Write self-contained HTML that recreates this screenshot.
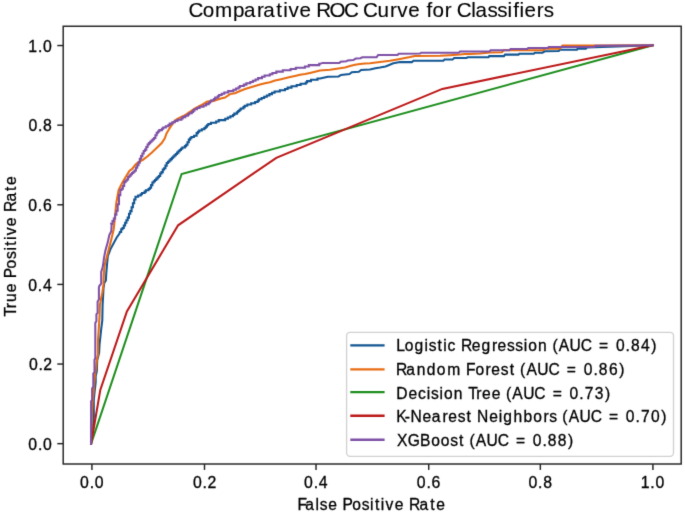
<!DOCTYPE html>
<html><head><meta charset="utf-8"><title>Comparative ROC Curve for Classifiers</title><style>
html,body{margin:0;padding:0;background:#fff;overflow:hidden;}
svg{display:block;}
text{font-family:"Liberation Sans", sans-serif;fill:#000;stroke:#000;stroke-width:0.3px;}
</style></head><body>
<svg width="685" height="515" viewBox="0 0 685 515">
<defs><filter id="bl" color-interpolation-filters="sRGB" x="0" y="0" width="685" height="515" filterUnits="userSpaceOnUse"><feConvolveMatrix order="3" kernelMatrix="0.01134 0.08382 0.01134 0.08382 0.61935 0.08382 0.01134 0.08382 0.01134" edgeMode="duplicate" preserveAlpha="true"/></filter></defs>
<g filter="url(#bl)">
<rect x="0" y="0" width="685" height="515" fill="#fff"/>
<polyline points="91.1,443.8 92.0,435.0 93.0,425.0 93.8,417.0 93.8,400.0 94.6,392.0 95.7,382.3 95.7,376.1 96.8,371.4 97.2,360.5 99.1,352.8 99.5,345.0 100.3,337.6 101.1,329.9 102.3,320.5 102.6,305.0 103.1,296.1 103.5,288.3 104.3,282.9 105.9,280.5 106.3,272.8 107.0,265.0 107.8,256.1 110.5,249.1 112.7,245.0 116.7,237.5 119.5,233.5 119.9,231.9 121.2,231.9 121.2,229.3 122.5,229.3 122.5,228.0 123.8,228.0 123.8,225.4 125.1,225.4 125.1,222.8 126.4,222.8 126.4,220.2 127.7,220.2 127.7,217.6 129.0,217.6 129.0,213.7 130.3,213.7 130.3,211.1 131.6,211.1 131.6,207.2 132.9,207.2 132.9,203.3 134.2,203.3 134.2,199.4 135.5,199.4 135.5,196.8 138.1,196.8 138.1,195.5 140.7,195.5 140.7,194.2 142.0,194.2 142.0,192.9 144.6,192.9 144.6,191.6 145.9,191.6 145.9,190.3 148.5,190.3 148.5,189.0 149.8,189.0 149.8,187.7 151.1,187.7 151.1,185.1 152.4,185.1 152.4,182.5 153.7,182.5 153.7,181.2 155.0,181.2 155.0,179.9 156.3,179.9 156.3,178.6 157.6,178.6 157.6,177.3 158.9,177.3 158.9,176.0 160.2,176.0 160.2,173.4 161.5,173.4 161.5,172.1 162.8,172.1 162.8,169.5 164.1,169.5 164.1,168.2 165.4,168.2 165.4,165.6 166.7,165.6 166.7,163.0 168.0,163.0 168.0,161.7 169.3,161.7 169.3,160.4 170.6,160.4 170.6,159.1 171.9,159.1 171.9,157.8 173.2,157.8 173.2,156.5 174.5,156.5 174.5,155.2 175.8,155.2 175.8,153.9 177.1,153.9 177.1,152.6 178.4,152.6 178.4,151.3 179.7,151.3 179.7,150.0 181.0,150.0 181.0,148.7 182.3,148.7 182.3,147.4 184.9,147.4 184.9,146.1 186.2,146.1 186.2,144.8 187.5,144.8 187.5,142.2 188.8,142.2 188.8,139.6 190.1,139.6 190.1,138.3 191.4,138.3 191.4,137.0 194.0,137.0 194.0,135.7 196.6,135.7 196.6,133.1 197.9,133.1 197.9,131.8 199.2,131.8 199.2,130.5 201.8,130.5 201.8,129.2 204.4,129.2 204.4,127.9 205.7,127.9 205.7,126.6 207.0,126.6 207.0,125.3 208.3,125.3 208.3,124.0 210.9,124.0 210.9,122.7 216.1,122.7 216.1,121.4 218.7,121.4 218.7,120.1 225.2,120.1 225.2,118.8 227.8,118.8 227.8,117.5 230.4,117.5 230.4,116.2 233.0,116.2 233.0,114.9 234.3,114.9 234.3,113.6 236.9,113.6 236.9,112.3 238.2,112.3 238.2,111.0 239.5,111.0 239.5,109.7 240.8,109.7 240.8,108.4 243.4,108.4 243.4,107.1 244.7,107.1 244.7,105.8 247.3,105.8 247.3,104.5 251.2,104.5 251.2,103.2 255.1,103.2 255.1,101.9 257.7,101.9 257.7,100.6 259.0,100.6 259.0,99.3 261.6,99.3 261.6,98.0 264.2,98.0 264.2,96.7 266.8,96.7 266.8,95.4 269.4,95.4 269.4,94.1 272.0,94.1 272.0,92.8 274.6,92.8 274.6,91.5 279.8,91.5 279.8,90.2 285.0,90.2 285.0,88.9 287.6,88.9 287.6,87.6 291.5,87.6 291.5,86.3 296.7,86.3 296.7,85.0 300.6,85.0 300.6,83.7 305.8,83.7 305.8,82.4 307.1,82.4 307.1,81.1 311.0,81.1 311.0,79.8 317.5,79.8 317.5,78.5 320.1,78.5 327.8,76.8 338.6,76.4 341.0,74.9 349.5,74.1 351.8,72.3 358.8,71.8 361.1,70.0 370.0,69.6 375.4,68.3 380.0,67.6 385.5,66.4 388.6,65.2 393.3,63.3 400.0,62.1 411.9,62.1 413.5,60.8 443.3,60.7 444.5,59.5 452.6,59.5 454.2,58.1 466.6,57.9 467.7,57.2 488.5,57.2 489.2,56.1 504.0,56.1 505.0,54.6 518.5,54.6 519.3,53.7 533.8,53.7 534.8,52.7 542.5,52.7 544.8,51.3 558.8,51.0 559.6,49.7 577.0,49.7 577.5,48.8 585.8,48.8 587.0,47.6 610.0,46.8 652.8,45.2" fill="none" stroke="#115592" stroke-width="2.05" stroke-linejoin="miter" stroke-linecap="square"/>
<polyline points="91.1,443.8 91.8,420.0 92.5,403.0 93.8,390.0 94.9,376.1 96.0,368.3 96.8,360.5 98.0,354.3 98.0,340.0 98.8,328.3 99.5,316.7 99.9,305.0 100.8,300.0 102.4,292.2 103.5,284.4 103.9,272.8 104.7,265.0 105.4,262.3 108.5,250.6 111.6,238.2 113.6,229.7 114.2,225.0 115.0,216.0 116.3,203.0 118.6,190.0 122.4,182.6 125.5,177.2 129.4,171.0 132.5,168.5 135.6,164.5 138.7,161.8 142.6,160.1 147.3,156.5 151.9,152.5 155.8,148.8 161.7,143.0 164.8,138.3 166.4,133.6 168.7,129.8 171.1,125.9 174.9,120.6 178.8,118.1 185.5,114.8 195.0,108.5 202.6,104.4 207.3,101.6 213.5,100.9 220.0,98.7 225.0,97.6 230.0,94.1 235.0,93.3 240.0,91.0 245.0,89.0 250.0,87.5 255.0,85.9 260.0,84.4 265.0,83.2 270.0,82.2 275.0,80.6 280.0,79.5 285.0,78.3 290.0,77.1 295.0,76.0 300.0,74.8 305.0,74.0 310.0,72.9 315.0,71.7 320.0,70.6 330.0,69.7 340.0,68.3 345.0,67.5 350.0,66.0 355.0,64.8 360.0,64.0 365.0,63.5 370.0,63.3 380.0,62.1 390.0,60.8 400.0,59.0 405.0,58.0 410.0,57.1 415.0,56.0 440.0,55.8 450.0,55.3 460.0,54.6 465.0,54.0 470.0,53.9 480.0,53.5 490.0,52.6 502.0,52.3 503.5,50.3 543.0,50.3 545.0,48.8 560.0,48.8 562.5,45.4 594.0,45.4 652.8,45.2" fill="none" stroke="#e86b10" stroke-width="2.05" stroke-linejoin="miter" stroke-linecap="square"/>
<polyline points="91.1,443.8 181.6,174.0 652.8,45.2" fill="none" stroke="#1d8e1d" stroke-width="2.05" stroke-linejoin="miter" stroke-linecap="square"/>
<polyline points="91.1,443.8 100.3,389.9 126.9,311.4 178.1,225.3 276.3,157.8 442.3,88.9 652.8,45.2" fill="none" stroke="#bc1818" stroke-width="2.05" stroke-linejoin="miter" stroke-linecap="square"/>
<polyline points="91.1,443.8 91.1,401.3 92.1,399.8 92.1,388.6 93.3,386.5 93.3,373.7 94.5,372.2 94.5,359.8 95.3,358.2 95.3,322.9 96.4,321.3 96.4,314.3 97.6,312.8 97.6,301.5 98.9,299.5 98.9,287.5 99.3,286.0 101.2,283.6 101.2,272.0 102.4,268.1 103.1,265.0 103.9,258.4 105.4,250.6 107.8,242.1 109.3,235.1 111.3,231.2 111.6,225.0 111.2,223.7 112.5,223.7 112.5,221.1 113.8,221.1 113.8,218.5 115.1,218.5 115.1,214.6 116.4,214.6 116.4,210.7 117.7,210.7 117.7,204.2 119.0,204.2 119.0,195.1 120.3,195.1 120.3,189.9 121.6,189.9 121.6,188.6 122.9,188.6 122.9,186.0 124.2,186.0 124.2,182.1 125.5,182.1 125.5,180.8 126.8,180.8 126.8,179.5 128.1,179.5 128.1,176.9 129.4,176.9 129.4,175.6 130.7,175.6 130.7,174.3 132.0,174.3 132.0,173.0 133.3,173.0 133.3,171.7 134.6,171.7 134.6,170.4 135.9,170.4 135.9,167.8 137.2,167.8 137.2,165.2 138.5,165.2 138.5,162.6 139.8,162.6 139.8,158.7 141.1,158.7 141.1,156.1 142.4,156.1 142.4,153.5 143.7,153.5 143.7,150.9 145.0,150.9 145.0,149.6 146.3,149.6 146.3,147.0 147.6,147.0 147.6,144.4 148.9,144.4 148.9,143.1 150.2,143.1 150.2,141.8 151.5,141.8 151.5,140.5 152.8,140.5 152.8,139.2 154.1,139.2 154.1,137.9 155.4,137.9 155.4,135.3 156.7,135.3 156.7,132.7 158.0,132.7 158.0,131.4 159.3,131.4 159.3,130.1 161.9,130.1 161.9,128.8 163.2,128.8 163.2,127.5 165.8,127.5 165.8,126.2 168.4,126.2 168.4,124.9 169.7,124.9 169.7,123.6 172.3,123.6 172.3,122.3 174.9,122.3 174.9,121.0 177.5,121.0 177.5,119.7 181.4,119.7 181.4,118.4 182.7,118.4 182.7,117.1 185.3,117.1 185.3,115.8 187.9,115.8 187.9,114.5 189.2,114.5 189.2,113.2 191.8,113.2 191.8,111.9 193.1,111.9 193.1,110.6 194.4,110.6 194.4,109.3 197.0,109.3 197.0,108.0 199.6,108.0 199.6,106.7 203.5,106.7 203.5,105.4 206.1,105.4 206.1,104.1 208.7,104.1 208.7,102.8 210.0,102.8 210.0,101.5 211.3,101.5 211.3,100.2 213.9,100.2 213.9,98.9 215.2,98.9 215.2,97.6 217.8,97.6 217.8,96.3 219.1,96.3 219.1,95.0 221.7,95.0 221.7,93.7 224.3,93.7 224.3,92.4 228.2,92.4 228.2,91.1 233.4,91.1 233.4,89.8 236.0,89.8 236.0,88.5 238.6,88.5 238.6,87.2 239.9,87.2 239.9,85.9 243.8,85.9 243.8,84.6 246.4,84.6 246.4,83.3 250.3,83.3 250.3,82.0 252.9,82.0 252.9,80.7 255.5,80.7 255.5,79.4 258.1,79.4 258.1,78.1 262.0,78.1 262.0,76.8 264.6,76.8 264.6,75.5 269.8,75.5 269.8,74.2 272.4,74.2 272.4,72.9 276.3,72.9 276.3,71.6 282.8,71.6 282.8,70.3 290.6,70.3 290.6,69.0 295.8,69.0 295.8,67.7 304.9,67.7 304.9,66.4 308.8,66.4 308.8,65.1 319.2,65.1 319.2,63.8 320.5,63.8 322.3,62.9 339.4,62.9 340.6,61.7 346.4,61.3 347.6,60.4 353.4,60.1 355.7,58.6 360.4,58.2 362.3,57.3 376.6,57.2 378.2,55.0 397.6,55.0 398.7,53.8 420.0,53.6 421.2,52.7 458.8,52.7 460.0,51.5 489.4,51.4 490.6,50.3 509.5,50.3 510.5,49.0 527.4,49.0 528.2,47.9 548.0,47.9 548.7,46.9 594.5,46.9 595.3,45.7 652.8,45.2" fill="none" stroke="#7e50a5" stroke-width="2.05" stroke-linejoin="miter" stroke-linecap="square"/>
<line x1="91.92" y1="464.0" x2="91.92" y2="469.90" stroke="#222" stroke-width="1.45"/>
<line x1="204.50" y1="464.0" x2="204.50" y2="469.90" stroke="#222" stroke-width="1.45"/>
<line x1="316.02" y1="464.0" x2="316.02" y2="469.90" stroke="#222" stroke-width="1.45"/>
<line x1="428.70" y1="464.0" x2="428.70" y2="469.90" stroke="#222" stroke-width="1.45"/>
<line x1="540.34" y1="464.0" x2="540.34" y2="469.90" stroke="#222" stroke-width="1.45"/>
<line x1="652.92" y1="464.0" x2="652.92" y2="469.90" stroke="#222" stroke-width="1.45"/>
<line x1="57.30" y1="443.66" x2="63.2" y2="443.66" stroke="#222" stroke-width="1.45"/>
<line x1="57.30" y1="364.04" x2="63.2" y2="364.04" stroke="#222" stroke-width="1.45"/>
<line x1="57.30" y1="284.42" x2="63.2" y2="284.42" stroke="#222" stroke-width="1.45"/>
<line x1="57.30" y1="204.79" x2="63.2" y2="204.79" stroke="#222" stroke-width="1.45"/>
<line x1="57.30" y1="125.17" x2="63.2" y2="125.17" stroke="#222" stroke-width="1.45"/>
<line x1="57.30" y1="45.55" x2="63.2" y2="45.55" stroke="#222" stroke-width="1.45"/>
<rect x="63.2" y="26.25" width="618.00" height="437.75" fill="none" stroke="#222" stroke-width="1.45"/>
<rect x="346.6" y="332.3" width="326.90" height="124.00" rx="3.5" ry="3.5" fill="#ffffff" fill-opacity="0.8" stroke="#d0d0d0" stroke-width="1.3"/>
<line x1="350.3" y1="345.35" x2="384.6" y2="345.35" stroke="#115592" stroke-width="2.35" stroke-linecap="butt"/>
<line x1="350.3" y1="369.30" x2="384.6" y2="369.30" stroke="#e86b10" stroke-width="2.35" stroke-linecap="butt"/>
<line x1="350.3" y1="392.05" x2="384.6" y2="392.05" stroke="#1d8e1d" stroke-width="2.35" stroke-linecap="butt"/>
<line x1="350.3" y1="415.70" x2="384.6" y2="415.70" stroke="#bc1818" stroke-width="2.35" stroke-linecap="butt"/>
<line x1="350.3" y1="439.75" x2="384.6" y2="439.75" stroke="#7e50a5" stroke-width="2.35" stroke-linecap="butt"/>
<text x="188.59 202.78 214.94 233.02 243.95 256.98 263.27 276.29 283.24 288.58 299.43 311.05 316.33 329.45 343.92 358.18 363.09 377.44 389.97 397.37 408.22 419.84 426.40 432.40 444.69 451.78 456.69 471.15 475.39 487.53 497.36 507.62 513.22 519.51 524.53 536.81 543.68" y="16.60" style="font-size:20.6px;stroke-width:0.12px">Comparative ROC Curve for Classifiers</text>
<text x="297.45 305.23 315.48 319.78 328.29 337.84 342.41 352.15 361.69 370.10 374.95 380.75 385.49 394.67 404.22 409.09 419.54 430.23 436.14" y="510.10" style="font-size:15.6px">False Positive Rate</text>
<text transform="translate(16.1,316.5) rotate(-90)" x="0.12 8.30 14.44 24.36 33.86 38.38 48.05 57.53 65.90 70.71 76.47 81.17 90.29 99.78 104.59 114.98 125.61 131.46" y="0" style="font-size:15.6px">True Positive Rate</text>
<text x="80.09 89.63 94.76" y="488.00" style="font-size:15.8px">0.0</text>
<text x="192.93 202.46 207.40" y="488.00" style="font-size:15.8px">0.2</text>
<text x="304.11 313.65 318.78" y="488.00" style="font-size:15.8px">0.4</text>
<text x="416.85 426.38 431.52" y="488.00" style="font-size:15.8px">0.6</text>
<text x="528.53 538.06 543.20" y="488.00" style="font-size:15.8px">0.8</text>
<text x="640.68 650.29 655.42" y="488.00" style="font-size:15.8px">1.0</text>
<text x="28.37 37.90 43.04" y="449.86" style="font-size:15.8px">0.0</text>
<text x="28.89 38.42 43.35" y="370.24" style="font-size:15.8px">0.2</text>
<text x="28.21 37.75 42.88" y="290.62" style="font-size:15.8px">0.4</text>
<text x="28.32 37.85 42.99" y="210.99" style="font-size:15.8px">0.6</text>
<text x="28.40 37.93 43.07" y="131.37" style="font-size:15.8px">0.8</text>
<text x="28.29 37.90 43.04" y="51.75" style="font-size:15.8px">1.0</text>
<text x="396.18 404.81 414.55 424.48 428.73 437.53 443.30 447.49 456.25 461.07 471.72 481.46 491.90 497.60 507.09 515.32 523.70 528.13 538.00 547.65 552.42 558.70 569.47 580.68 592.25 599.01 610.52 615.89 625.59 630.97 641.02 651.26" y="351.00" style="font-size:15.6px">Logistic Regression (AUC = 0.84)</text>
<text x="395.90 406.32 416.81 426.71 436.69 447.14 461.64 466.12 475.45 485.62 491.33 500.84 509.66 515.32 520.10 526.40 537.19 548.43 560.02 566.80 578.32 583.71 593.43 598.83 608.91 619.16" y="374.80" style="font-size:15.6px">Random Forest (AUC = 0.86)</text>
<text x="396.26 408.49 417.93 426.82 431.07 439.45 443.88 453.76 463.41 468.17 476.36 482.06 491.79 501.30 506.07 512.36 523.13 534.35 545.92 552.69 564.20 569.57 579.27 584.63 594.74 604.96" y="398.60" style="font-size:15.6px">Decision Tree (AUC = 0.73)</text>
<text x="396.13 404.75 410.48 422.59 431.69 442.43 448.14 457.63 466.44 472.09 477.06 489.16 498.80 503.30 513.45 523.58 533.33 543.48 549.33 557.58 562.36 568.64 579.41 590.64 602.21 608.98 620.49 625.87 635.57 640.93 651.02 661.26" y="422.40" style="font-size:15.6px">K-Nearest Neighbors (AUC = 0.70)</text>
<text x="397.02 407.68 420.06 431.17 440.81 450.28 459.07 464.70 469.46 475.72 486.46 497.65 509.20 515.94 527.42 532.77 542.45 547.82 557.85 568.07" y="446.20" style="font-size:15.6px">XGBoost (AUC = 0.88)</text>
</g>
</svg>
</body></html>
